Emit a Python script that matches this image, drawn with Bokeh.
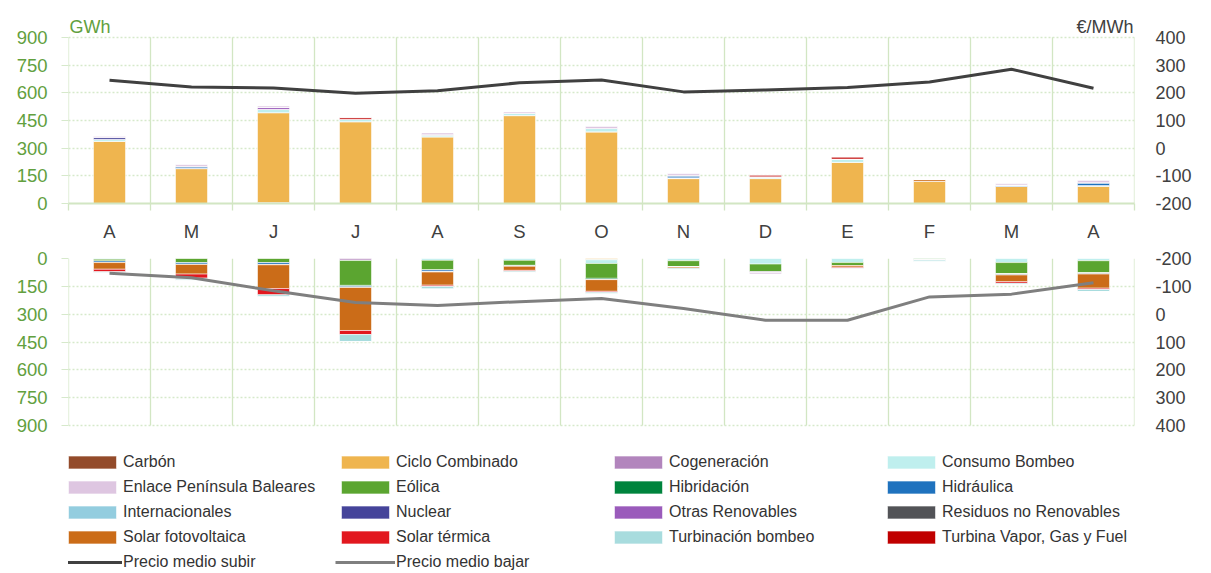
from bokeh.plotting import figure
from bokeh.models import (Range1d, LinearAxis, FixedTicker, ColumnDataSource,
                          Legend, LegendItem, Label)
from bokeh.layouts import column
from bokeh.embed import file_html
from bokeh.resources import INLINE

# ---------------- data ----------------
months = ["A", "M", "J", "J", "A", "S", "O", "N", "D", "E", "F", "M", "A"]

# legend order
categories = ["Carbón", "Ciclo Combinado", "Cogeneración", "Consumo Bombeo",
              "Enlace Península Baleares", "Eólica", "Hibridación", "Hidráulica",
              "Internacionales", "Nuclear", "Otras Renovables", "Residuos no Renovables",
              "Solar fotovoltaica", "Solar térmica", "Turbinación bombeo",
              "Turbina Vapor, Gas y Fuel"]
colors = ["#934B2A", "#EFB54F", "#B285BD", "#BFEFEE",
          "#DEC6E1", "#5BA530", "#00843D", "#1F72BE",
          "#93CDDF", "#45449A", "#9A5BBB", "#525357",
          "#CB6C18", "#E2181F", "#A8DCDE", "#C00000"]

# energy to raise (GWh), top panel
up_carbon       = [0, 0, 5, 0, 0, 0, 0, 0, 0, 0, 0, 0, 0]
up_ciclo        = [337, 189, 487, 443, 361, 476, 388, 135, 135, 223, 121, 92, 94]
up_cogeneracion = [0] * 13
up_consumo      = [11, 2, 18, 13, 12, 13, 18, 4, 10, 18, 0, 2, 3]
up_enlace       = [5, 10, 7, 0, 9, 7, 11, 10, 0, 0, 0, 7, 11]
up_eolica       = [0] * 13
up_hibridacion  = [0] * 13
up_hidraulica   = [0, 9, 0, 0, 0, 0, 0, 12, 0, 0, 0, 6, 16]
up_internac     = [0] * 13
up_nuclear      = [10, 0, 0, 0, 0, 0, 0, 0, 0, 0, 0, 0, 0]
up_otras        = [0, 0, 11, 0, 0, 0, 0, 0, 0, 0, 0, 0, 0]
up_residuos     = [0] * 13
up_solar_fv     = [0, 0, 0, 0, 0, 0, 0, 0, 0, 0, 9, 0, 0]
up_solar_term   = [0] * 13
up_turbinacion  = [0] * 13
up_turbina_vap  = [0, 0, 0, 9, 0, 0, 0, 0, 9, 11, 0, 0, 0]

# energy to lower (GWh, magnitude), bottom panel
dn_carbon       = [0] * 13
dn_ciclo        = [0, 0, 0, 0, 0, 0, 7, 0, 0, 0, 0, 0, 0]
dn_cogeneracion = [0, 0, 0, 9, 0, 0, 0, 0, 0, 0, 0, 0, 0]
dn_consumo      = [4, 0, 0, 2, 10, 10, 20, 12, 30, 22, 2, 22, 12]
dn_enlace       = [0, 0, 0, 0, 0, 0, 0, 0, 7, 0, 0, 0, 0]
dn_eolica       = [10, 23, 23, 134, 52, 27, 80, 34, 42, 16, 7, 62, 67]
dn_hibridacion  = [0, 0, 0, 5, 0, 5, 7, 0, 0, 0, 0, 0, 0]
dn_hidraulica   = [8, 9, 11, 6, 8, 0, 0, 0, 0, 0, 0, 0, 0]
dn_internac     = [0] * 13
dn_nuclear      = [0] * 13
dn_otras        = [0] * 13
dn_residuos     = [0, 0, 0, 0, 3, 0, 0, 0, 4, 0, 0, 5, 5]
dn_solar_fv     = [36, 52, 128, 232, 71, 22, 63, 7, 0, 9, 0, 36, 76]
dn_solar_term   = [13, 22, 34, 22, 7, 5, 5, 0, 0, 5, 0, 9, 7]
dn_turbinacion  = [7, 11, 11, 38, 14, 7, 9, 7, 0, 5, 9, 7, 11]
dn_turbina_vap  = [0] * 13

# prices (EUR/MWh)
precio_subir = [245, 221, 217, 198, 207, 236, 246, 203, 210, 219, 239, 285, 216]
precio_bajar = [-147, -131, -84, -42, -31, -45, -56, -20, 22, 22, -62, -72, -113]

gwh_ticks = [0, 150, 300, 450, 600, 750, 900]
price_ticks = [-200, -100, 0, 100, 200, 300, 400]

# ---------------- build ----------------
up_series = [up_carbon, up_ciclo, up_cogeneracion, up_consumo, up_enlace, up_eolica,
             up_hibridacion, up_hidraulica, up_internac, up_nuclear, up_otras,
             up_residuos, up_solar_fv, up_solar_term, up_turbinacion, up_turbina_vap]
dn_series = [dn_carbon, dn_ciclo, dn_cogeneracion, dn_consumo, dn_enlace, dn_eolica,
             dn_hibridacion, dn_hidraulica, dn_internac, dn_nuclear, dn_otras,
             dn_residuos, dn_solar_fv, dn_solar_term, dn_turbinacion, dn_turbina_vap]

keys = ["s%d" % i for i in range(len(categories))]
# stacking order (zero -> outward)
stack_order = [0, 1, 2, 3, 5, 6, 7, 8, 9, 11, 10, 12, 13, 14, 15, 4]

xs = list(range(1, len(months) + 1))
bounds = [i + 0.5 for i in range(len(months) + 1)]

up_src = ColumnDataSource(dict(x=xs, **{k: v for k, v in zip(keys, up_series)}))
dn_src = ColumnDataSource(dict(x=xs, **{k: v for k, v in zip(keys, dn_series)}))
line_up_src = ColumnDataSource(dict(x=xs, y=precio_subir))
line_dn_src = ColumnDataSource(dict(x=xs, y=precio_bajar))

FONT = "'Liberation Sans', Arial, sans-serif"
GREEN_TXT = "#62A03E"
GRID_V = "#D2E6C3"
GRID_H = "#D6E9CB"
DARK = "#404040"

# ---- layout geometry (pixels) ----
W = 1205
ML = 68                 # left border -> frame starts at x=68
FRAME_W = 1066
MR = W - ML - FRAME_W
PANEL_PX = 167          # pixels spanned by 0..900 GWh in each panel
H1, B1 = 244, 40        # top figure height / bottom border
H2, T2 = 328, 14        # bottom figure height / top border
GMAX = gwh_ticks[-1]
PMIN, PMAX = price_ticks[0], price_ticks[-1]

top_frame = H1 - B1
g_top_end = GMAX * top_frame / PANEL_PX
p_top_end = PMIN + (PMAX - PMIN) * top_frame / PANEL_PX
bot_frame = H2 - T2
g_bot_start = GMAX * bot_frame / PANEL_PX
p_bot_start = PMIN + (PMAX - PMIN) * bot_frame / PANEL_PX


def style_common(p):
    p.outline_line_color = None
    p.background_fill_color = "white"
    p.border_fill_color = "white"
    p.xgrid.visible = False
    p.ygrid.ticker = FixedTicker(ticks=gwh_ticks)
    p.ygrid.grid_line_color = GRID_H
    p.ygrid.grid_line_dash = "2 2"
    p.ygrid.grid_line_width = 1.3
    ya = p.yaxis[0]
    ya.ticker = FixedTicker(ticks=gwh_ticks)
    ya.axis_line_color = None
    ya.major_tick_out = 7
    ya.major_tick_in = 0
    ya.major_tick_line_color = GRID_H
    ya.minor_tick_line_color = None
    ya.major_label_standoff = 14
    ya.major_label_text_font = FONT
    ya.major_label_text_font_size = "18.5px"
    ya.major_label_text_color = GREEN_TXT
    # vertical separators between months, spanning 0..900
    p.segment(x0=bounds, y0=0, x1=bounds, y1=GMAX, line_color=GRID_V,
              line_width=1.3, level="underlay")


def add_price_axis(p, rng):
    p.extra_y_ranges = {"price": rng}
    ax = LinearAxis(y_range_name="price", ticker=FixedTicker(ticks=price_ticks))
    ax.axis_line_color = None
    ax.major_tick_line_color = None
    ax.major_tick_out = 0
    ax.major_tick_in = 0
    ax.minor_tick_line_color = None
    ax.minor_tick_out = 0
    ax.major_label_standoff = 21
    ax.major_label_text_align = "left"
    ax.major_label_overrides = {t: str(t) for t in price_ticks}
    ax.major_label_text_font = FONT
    ax.major_label_text_font_size = "18px"
    ax.major_label_text_color = DARK
    p.add_layout(ax, "right")


# ---- top panel ----
p1 = figure(width=W, height=H1, x_range=Range1d(0.5, 13.5), y_range=Range1d(0, g_top_end),
            output_backend="svg", toolbar_location=None,
            min_border_left=ML, min_border_right=MR, min_border_top=0, min_border_bottom=B1)
style_common(p1)
add_price_axis(p1, Range1d(PMIN, p_top_end))

xa = p1.xaxis[0]
xa.ticker = FixedTicker(ticks=xs, minor_ticks=bounds)
xa.major_label_overrides = {x: m for x, m in zip(xs, months)}
xa.axis_line_color = GRID_V
xa.axis_line_width = 2
xa.major_tick_out = 0
xa.major_tick_in = 0
xa.minor_tick_out = 7
xa.minor_tick_in = 0
xa.minor_tick_line_color = GRID_V
xa.minor_tick_line_width = 1.3
xa.major_label_standoff = 10
xa.major_label_text_font = FONT
xa.major_label_text_font_size = "18.5px"
xa.major_label_text_color = DARK

p1.vbar_stack([keys[i] for i in stack_order], x="x", width=0.39,
              fill_color=[colors[i] for i in stack_order],
              line_color="white", line_alpha=0.55, line_width=1, source=up_src)
p1.line("x", "y", source=line_up_src, y_range_name="price",
        line_color="#404040", line_width=3)

p1.add_layout(Label(x=0.5, y=GMAX, x_offset=1, y_offset=10, text="GWh",
                    text_font=FONT, text_font_size="18px", text_color=GREEN_TXT,
                    text_baseline="alphabetic", text_align="left"))
p1.add_layout(Label(x=13.5, y=GMAX, x_offset=-1, y_offset=10, text="€/MWh",
                    text_font=FONT, text_font_size="18px", text_color=DARK,
                    text_baseline="alphabetic", text_align="right"))

# ---- bottom panel ----
p2 = figure(width=W, height=H2, x_range=p1.x_range, y_range=Range1d(g_bot_start, 0),
            output_backend="svg", toolbar_location=None,
            min_border_left=ML, min_border_right=MR, min_border_top=T2, min_border_bottom=0)
style_common(p2)
add_price_axis(p2, Range1d(p_bot_start, PMIN))
p2.xaxis.visible = False

dn_renderers = p2.vbar_stack([keys[i] for i in stack_order], x="x", width=0.39,
                             fill_color=[colors[i] for i in stack_order],
                             line_color="white", line_alpha=0.55, line_width=1,
                             source=dn_src)
bajar_r = p2.line("x", "y", source=line_dn_src, y_range_name="price",
                  line_color="#7F7F7F", line_width=3)
# legend stand-in for the top panel's line (draws nothing in the plot)
subir_proxy = p2.line(x=[float("nan")], y=[float("nan")], line_color="#404040", line_width=3)

rend_by_cat = {stack_order[j]: dn_renderers[j] for j in range(len(stack_order))}
items = [LegendItem(label=categories[i], renderers=[rend_by_cat[i]]) for i in range(len(categories))]
items.append(LegendItem(label="Precio medio subir", renderers=[subir_proxy]))
items.append(LegendItem(label="Precio medio bajar", renderers=[bajar_r]))

legend = Legend(items=items, orientation="horizontal", ncols=4,
                location=(-6, 1), glyph_width=60, glyph_height=16,
                label_standoff=1, label_width=205, label_height=17, spacing=7,
                padding=0, margin=0, border_line_color=None,
                background_fill_alpha=0,
                label_text_font=FONT, label_text_font_size="16px",
                label_text_color="#333333")
p2.add_layout(legend, "center")

layout = column(p1, p2, spacing=0)
open("out.html", "w").write(file_html(layout, INLINE))
